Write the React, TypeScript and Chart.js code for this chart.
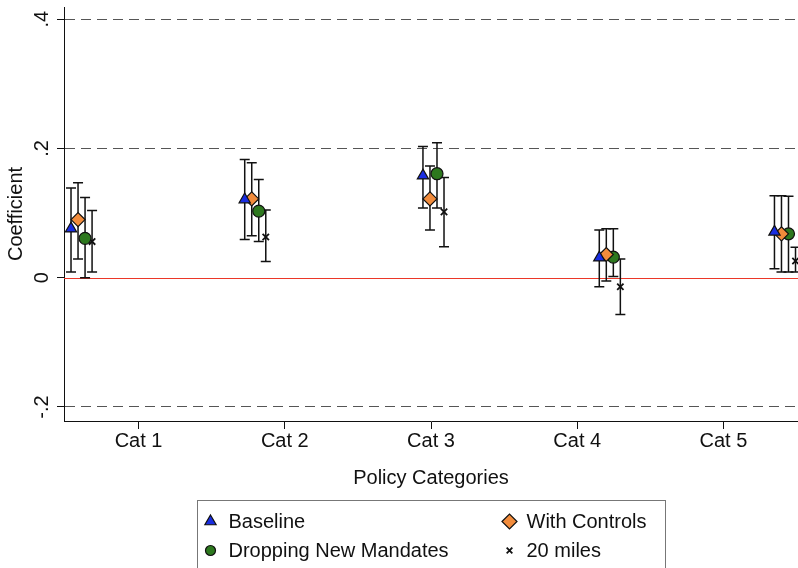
import React, { useEffect, useRef } from 'react';
import { Chart, registerables } from 'chart.js';
import { drawPoint } from 'chart.js/helpers';

Chart.register(...registerables);

// ---------- data ----------
const categories = ['Cat 1', 'Cat 2', 'Cat 3', 'Cat 4', 'Cat 5'];
const categoryTicks = [1, 2, 3, 4, 5];
const groupX = [0.538, 1.726, 2.945, 4.151, 5.349];
const seriesOffset = [0, 0.048, 0.096, 0.144];
const yTicks = [-0.2, 0, 0.2, 0.4];
const yTickLabels = ['-.2', '0', '.2', '.4'];
const referenceLine = 0;

const seriesLabels = ['Baseline', 'With Controls', 'Dropping New Mandates', '20 miles'];

const baseline = [0.076, 0.121, 0.158, 0.031, 0.071];
const baselineLo = [0.009, 0.059, 0.108, -0.014, 0.014];
const baselineHi = [0.139, 0.183, 0.203, 0.074, 0.127];

const controls = [0.090, 0.122, 0.122, 0.036, 0.068];
const controlsLo = [0.029, 0.065, 0.074, -0.005, 0.009];
const controlsHi = [0.147, 0.178, 0.173, 0.076, 0.127];

const dropping = [0.061, 0.103, 0.161, 0.032, 0.068];
const droppingLo = [0.0, 0.056, 0.108, 0.002, 0.009];
const droppingHi = [0.124, 0.152, 0.209, 0.076, 0.126];

const miles = [0.056, 0.063, 0.102, -0.014, 0.026];
const milesLo = [0.009, 0.025, 0.048, -0.057, 0.009];
const milesHi = [0.104, 0.105, 0.155, 0.029, 0.047];

// ---------- styles ----------
const FONT = '"Liberation Sans", Arial, Helvetica, sans-serif';
const FONT_SIZE = 20;
const RED = 'rgb(235,55,40)';
const styles = [
  { pointStyle: 'triangle', color: 'rgb(25,45,225)', border: '#111', radius: 6.5, legendRadius: 6.5 },
  { pointStyle: 'rectRot', color: 'rgb(242,140,60)', border: '#111', radius: 7, legendRadius: 7.5 },
  { pointStyle: 'circle', color: 'rgb(45,120,30)', border: '#111', radius: 6, legendRadius: 5 },
  { pointStyle: 'crossRot', color: '#111', border: '#111', radius: 4.5, legendRadius: 4 },
];

const values = [baseline, controls, dropping, miles];
const lows = [baselineLo, controlsLo, droppingLo, milesLo];
const highs = [baselineHi, controlsHi, droppingHi, milesHi];

const isZero = (v: number) => Math.abs(v - referenceLine) < 1e-9;

const errorBarPlugin = {
  id: 'errorBars',
  beforeDatasetsDraw(chart: any) {
    const { ctx, scales, chartArea } = chart;
    const x = scales.x;
    const y = scales.y;
    ctx.save();
    // reference line at 0
    const y0 = Math.round(y.getPixelForValue(referenceLine)) + 0.5;
    ctx.strokeStyle = RED;
    ctx.lineWidth = 1;
    ctx.beginPath();
    ctx.moveTo(chartArea.left, y0);
    ctx.lineTo(chartArea.right, y0);
    ctx.stroke();

    ctx.beginPath();
    ctx.rect(chartArea.left, chartArea.top, chartArea.right - chartArea.left, chartArea.bottom - chartArea.top);
    ctx.clip();
    ctx.strokeStyle = '#111';
    ctx.lineWidth = 1.5;
    chart.data.datasets.forEach((ds: any) => {
      ds.data.forEach((p: any, i: number) => {
        const px = x.getPixelForValue(p.x);
        const top = y.getPixelForValue(ds.errHi[i]);
        const bot = y.getPixelForValue(ds.errLo[i]);
        ctx.beginPath();
        ctx.moveTo(px, top);
        ctx.lineTo(px, bot);
        ctx.moveTo(px - 5, top);
        ctx.lineTo(px + 5, top);
        ctx.moveTo(px - 5, bot);
        ctx.lineTo(px + 5, bot);
        ctx.stroke();
      });
    });
    ctx.restore();
  },
};

const legendBoxPlugin = {
  id: 'legendBox',
  afterDraw(chart: any) {
    const { ctx, chartArea } = chart;
    const width = 468;
    const left = Math.round((chartArea.left + chartArea.right) / 2 - width / 2) + 0.5;
    const top = chartArea.bottom + 79.5;
    ctx.save();
    ctx.strokeStyle = '#777';
    ctx.lineWidth = 1;
    ctx.strokeRect(left, top, width, 90);
    ctx.font = `${FONT_SIZE}px ${FONT}`;
    ctx.textBaseline = 'middle';
    ctx.fillStyle = '#111';
    const cols = [left + 13, left + 312];
    const rows = [top + 21, top + 50];
    const order = [0, 1, 2, 3];
    order.forEach((di, k) => {
      const ds = chart.data.datasets[di];
      const cx = cols[k % 2];
      const cy = rows[Math.floor(k / 2)];
      ctx.save();
      ctx.fillStyle = ds.backgroundColor;
      ctx.strokeStyle = ds.borderColor;
      ctx.lineWidth = ds.pointStyle === 'crossRot' ? 1.8 : 1.2;
      drawPoint(ctx, { pointStyle: ds.pointStyle, radius: ds.legendRadius, borderWidth: ctx.lineWidth, rotation: 0 }, cx, cy);
      ctx.restore();
      ctx.fillText(ds.label, cx + (k % 2 === 0 ? 18 : 17), cy + 1);
    });
    ctx.restore();
  },
};

export default function App() {
  const ref = useRef<HTMLCanvasElement>(null);
  useEffect(() => {
    if (!ref.current) return;
    const datasets = values.map((vals, s) => ({
      label: seriesLabels[s],
      data: vals.map((v, i) => ({ x: groupX[i] + seriesOffset[s], y: v })),
      errLo: lows[s],
      errHi: highs[s],
      pointStyle: styles[s].pointStyle,
      pointRadius: styles[s].radius,
      legendRadius: styles[s].legendRadius,
      backgroundColor: styles[s].color,
      borderColor: styles[s].border,
      pointBorderWidth: s === 3 ? 1.8 : 1.2,
      showLine: false,
    }));
    const chart = new Chart(ref.current, {
      type: 'scatter',
      data: { datasets: datasets as any },
      options: {
        animation: false,
        responsive: false,
        layout: { autoPadding: false, padding: { top: 7, left: 0, right: 0, bottom: 77 } },
        plugins: { legend: { display: false }, tooltip: { enabled: false } },
        scales: {
          x: {
            type: 'linear',
            min: 0.49,
            max: 5.51,
            afterBuildTicks: (scale: any) => {
              scale.ticks = categoryTicks.map((v) => ({ value: v }));
            },
            afterFit: (scale: any) => {
              scale.height = 70;
              scale.paddingLeft = 0;
              scale.paddingRight = 0;
            },
            ticks: {
              autoSkip: false,
              maxRotation: 0,
              minRotation: 0,
              padding: 0,
              color: '#111',
              font: { family: FONT, size: FONT_SIZE },
              callback: (v: any) => categories[categoryTicks.indexOf(Number(v))] ?? '',
            },
            grid: { drawOnChartArea: false, drawTicks: true, tickLength: 8, tickColor: '#111', tickWidth: 1 },
            border: { display: true, color: '#111', width: 1 },
            title: {
              display: true,
              text: 'Policy Categories',
              color: '#111',
              font: { family: FONT, size: FONT_SIZE },
              padding: { top: 0, bottom: 1 },
            },
          },
          y: {
            type: 'linear',
            min: -0.2217,
            max: 0.419,
            afterBuildTicks: (scale: any) => {
              scale.ticks = yTicks.map((v) => ({ value: v }));
            },
            afterFit: (scale: any) => {
              scale.width = 64;
              scale.paddingTop = 0;
              scale.paddingBottom = 0;
            },
            ticks: {
              autoSkip: false,
              minRotation: 90,
              maxRotation: 90,
              crossAlign: 'center',
              padding: 3,
              color: '#111',
              font: { family: FONT, size: FONT_SIZE },
              callback: (v: any) => {
                const idx = yTicks.findIndex((t) => Math.abs(t - Number(v)) < 1e-9);
                return idx >= 0 ? yTickLabels[idx] : '';
              },
            },
            grid: {
              color: (c: any) => (c.tick && isZero(c.tick.value) ? 'rgba(0,0,0,0)' : '#555'),
              lineWidth: 1,
              drawTicks: true,
              tickLength: 7,
              tickColor: '#111',
              tickWidth: 1,
            },
            border: {
              display: true,
              color: '#111',
              width: 1,
              dash: (c: any) => (c.tick && isZero(c.tick.value) ? [] : [10, 6]),
            } as any,
            title: {
              display: true,
              text: 'Coefficient',
              color: '#111',
              font: { family: FONT, size: FONT_SIZE },
              padding: { top: 4, bottom: 0 },
            },
          },
        },
      },
      plugins: [errorBarPlugin, legendBoxPlugin],
    });
    return () => chart.destroy();
  }, []);
  return (
    <div style={{ position: 'fixed', left: 0, top: 0, width: 798, height: 568, background: '#fff' }}>
      <canvas ref={ref} width={798} height={568} style={{ display: 'block', width: 798, height: 568 }} />
    </div>
  );
}
